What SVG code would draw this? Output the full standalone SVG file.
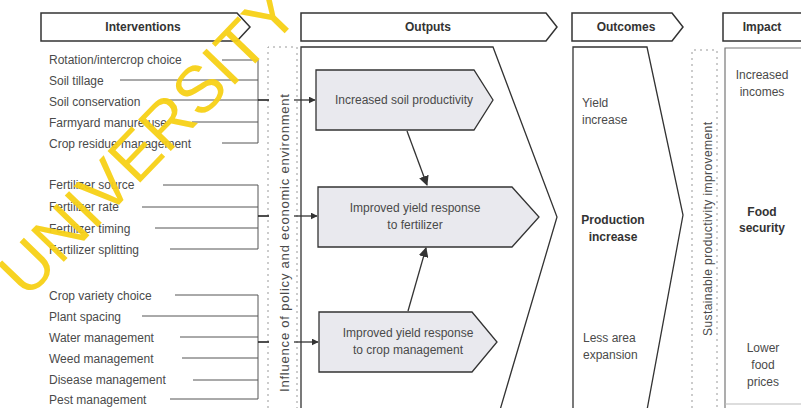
<svg xmlns="http://www.w3.org/2000/svg" width="801" height="408" viewBox="0 0 801 408">
<defs>
<marker id="ah" viewBox="0 0 10 10" refX="9" refY="5" markerWidth="7" markerHeight="7" orient="auto" markerUnits="userSpaceOnUse"><path d="M0,0 L10,5 L0,10 z" fill="#333"/></marker>
<marker id="ah2" viewBox="0 0 10 10" refX="9" refY="5" markerWidth="10" markerHeight="10" orient="auto" markerUnits="userSpaceOnUse"><path d="M0,0 L10,5 L0,10 z" fill="#333"/></marker>
</defs>
<style>
text{font-family:"Liberation Sans",Arial,sans-serif;fill:#4a4a4a;font-size:12px}
.hd{font-weight:bold;font-size:12px;fill:#333;text-anchor:middle}
.hbox{fill:#fff;stroke:#333;stroke-width:1.5}
.panel{fill:none;stroke:#333;stroke-width:1.3}
.obox{fill:#e9e9ee;stroke:#333;stroke-width:1.3}
.c{text-anchor:middle}
.b{font-weight:bold;fill:#333}
.br{fill:none;stroke:#555;stroke-width:1}
.tk{stroke:#222;stroke-width:1.6}
.dot{fill:none;stroke:#999;stroke-width:1;stroke-dasharray:2 4}
.conn{stroke:#333;stroke-width:1.3;fill:none}
.wm{font-size:66px;fill:#f7d117}
</style>
<rect width="801" height="408" fill="#fff"/>

<g id="headers">
<g id="h-interventions"><path class="hbox" d="M41,13 L237,13 L250,27 L237,41 L41,41 Z"/><text class="hd" x="143" y="31">Interventions</text></g>
<g id="h-outputs"><path class="hbox" d="M301,13 L546,13 L557,27 L546,41 L301,41 Z"/><text class="hd" x="428" y="31">Outputs</text></g>
<g id="h-outcomes"><path class="hbox" d="M572,13 L672,13 L683,27 L672,41 L572,41 Z"/><text class="hd" x="626" y="31">Outcomes</text></g>
<g id="h-impact"><path class="hbox" d="M723,13 L805,13 L805,41 L723,41 Z"/><text class="hd" x="762" y="31">Impact</text></g>
</g>

<g id="panels">
<path class="panel" d="M301,410 L301,47 L493,47 L557,217 L500,410"/>
<path class="panel" d="M573,410 L573,47 L647,47 L683,215 L647,410"/>
<path d="M725,410 L725,48 L805,48" fill="none" stroke="#777" stroke-width="1.2"/>
<path d="M725,404 L805,404" fill="none" stroke="#bbb" stroke-width="1"/>
<path class="dot" d="M268,408 L268,47 L297,47 L297,408"/>
<path class="dot" d="M692,408 L692,50 L717,50 L717,408"/>
<text transform="translate(289,243) rotate(-90)" class="c" style="font-size:13px" textLength="298" lengthAdjust="spacing">Influence of policy and economic environment</text>
<text transform="translate(712,229) rotate(-90)" class="c" textLength="214" lengthAdjust="spacing">Sustainable productivity improvement</text>
</g>

<g id="interventions">
<text x="49" y="64">Rotation/intercrop choice</text>
<text x="49" y="85">Soil tillage</text>
<text x="49" y="106">Soil conservation</text>
<text x="49" y="127">Farmyard manure use</text>
<text x="49" y="148">Crop residue management</text>
<text x="49" y="189">Fertilizer source</text>
<text x="49" y="211">Fertilizer rate</text>
<text x="49" y="233">Fertilizer timing</text>
<text x="49" y="254">Fertilizer splitting</text>
<text x="49" y="300">Crop variety choice</text>
<text x="49" y="321">Plant spacing</text>
<text x="49" y="342">Water management</text>
<text x="49" y="363">Weed management</text>
<text x="49" y="384">Disease management</text>
<text x="49" y="404">Pest management</text>
</g>

<g id="out-soil"><path class="obox" d="M316,70 L474,70 L493,100 L474,130 L316,130 Z"/><text class="c" x="404" y="104">Increased soil productivity</text></g>
<g id="out-fert"><path class="obox" d="M318,187 L512,187 L539,217 L512,247 L318,247 Z"/><text class="c" x="415" y="212">Improved yield response</text><text class="c" x="415" y="229">to fertilizer</text></g>
<g id="out-crop"><path class="obox" d="M319,312 L472,312 L497,342 L472,372 L319,372 Z"/><text class="c" x="408" y="337">Improved yield response</text><text class="c" x="408" y="354">to crop management</text></g>

<g id="outcomes">
<text x="582" y="107">Yield</text><text x="582" y="124">increase</text>
<text class="c b" x="613" y="224">Production</text><text class="c b" x="613" y="241">increase</text>
<text x="583" y="342">Less area</text><text x="583" y="359">expansion</text>
</g>

<g id="impact">
<text class="c" x="762" y="79">Increased</text><text class="c" x="762" y="96">incomes</text>
<text class="c b" x="762" y="216">Food</text><text class="c b" x="762" y="232">security</text>
<text class="c" x="763" y="352">Lower</text><text class="c" x="763" y="369">food</text><text class="c" x="763" y="386">prices</text>
</g>

<g id="connectors">
<path class="br" d="M222,60 L258,60 M120,80 L258,80 M163,100 L258,100 M192,122 L258,122 M222,143 L258,143 M258,60 L258,143"/>
<path class="tk" d="M258,100 L269,100"/>
<path class="br" d="M163,185 L258,185 M142,207 L258,207 M155,228 L258,228 M170,249 L258,249 M258,185 L258,249"/>
<path class="tk" d="M258,216 L269,216"/>
<path class="br" d="M175,295 L258,295 M142,316 L258,316 M180,337 L258,337 M182,358 L258,358 M193,380 L258,380 M170,399 L258,399 M258,295 L258,399"/>
<path class="tk" d="M258,342 L269,342"/>
<path class="conn" d="M294,100 L315,100" marker-end="url(#ah)"/>
<path class="conn" d="M294,216 L317,216" marker-end="url(#ah)"/>
<path class="conn" d="M294,342 L318,342" marker-end="url(#ah)"/>
<path class="conn" d="M407,131 L427,185" marker-end="url(#ah2)"/>
<path class="conn" d="M408,311 L426,248" marker-end="url(#ah2)"/>
</g>

<text class="wm" transform="translate(27,300) rotate(-46)" opacity="0.95">UNIVERSITY</text>
</svg>
